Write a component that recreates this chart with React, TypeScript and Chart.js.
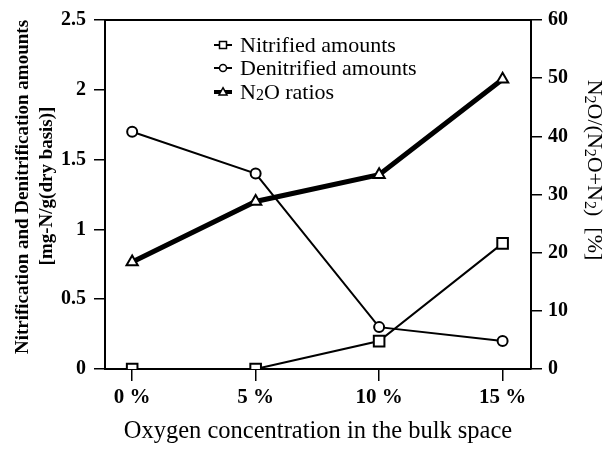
import React, { useEffect, useRef } from 'react';
import { Chart, registerables } from 'chart.js';

Chart.register(...registerables);

const oxygenLevels = [0, 5, 10, 15];
const xTickLabels = ['0 %', '5 %', '10 %', '15 %'];
const nitrified = [0, 0, 0.2, 0.9];
const denitrified = [1.7, 1.4, 0.3, 0.2];
const n2oRatios = [18.4, 28.8, 33.4, 49.8];
const leftTicks = [0, 0.5, 1, 1.5, 2, 2.5];
const rightTicks = [0, 10, 20, 30, 40, 50, 60];
const seriesLabels = ['Nitrified amounts', 'Denitrified amounts', 'N₂O ratios'];

const FONT = "'Liberation Serif', 'Times New Roman', serif";

type Seg = { t: string; sub?: boolean };

function richSegments(text: string): Seg[] {
  const out: Seg[] = [];
  for (const ch of text) {
    const sub = ch === '₂';
    const t = sub ? '2' : ch;
    const last = out[out.length - 1];
    if (last && !!last.sub === sub) last.t += t;
    else out.push({ t, sub });
  }
  return out;
}

function drawRich(
  ctx: CanvasRenderingContext2D,
  text: string,
  x: number,
  y: number,
  size: number,
  subSize: number,
  subDrop: number,
  align: 'left' | 'center'
) {
  const segs = richSegments(text);
  const fontFor = (s: Seg) => `${s.sub ? subSize : size}px ${FONT}`;
  let total = 0;
  for (const s of segs) {
    ctx.font = fontFor(s);
    total += ctx.measureText(s.t).width;
  }
  let cx = align === 'center' ? x - total / 2 : x;
  ctx.textAlign = 'left';
  ctx.textBaseline = 'alphabetic';
  const base = y + size * 0.33;
  for (const s of segs) {
    ctx.font = fontFor(s);
    ctx.fillText(s.t, cx, s.sub ? base + subDrop : base);
    cx += ctx.measureText(s.t).width;
  }
}

function drawMarker(ctx: CanvasRenderingContext2D, style: string, x: number, y: number, r: number) {
  ctx.beginPath();
  if (style === 'rect') {
    ctx.rect(x - r, y - r, 2 * r, 2 * r);
  } else if (style === 'circle') {
    ctx.arc(x, y, r, 0, Math.PI * 2);
  } else {
    const h = r * 1.8;
    ctx.moveTo(x, y - h * 0.6);
    ctx.lineTo(x + r, y + h * 0.4);
    ctx.lineTo(x - r, y + h * 0.4);
    ctx.closePath();
  }
  ctx.fillStyle = '#fff';
  ctx.fill();
  ctx.stroke();
}

const decorPlugin = {
  id: 'decor',
  afterDraw(chart: any) {
    const ctx: CanvasRenderingContext2D = chart.ctx;
    const { left, right, top } = chart.chartArea;
    ctx.save();
    // top border
    ctx.strokeStyle = '#000';
    ctx.lineWidth = 2;
    ctx.beginPath();
    ctx.moveTo(left, top);
    ctx.lineTo(right, top);
    ctx.stroke();

    ctx.fillStyle = '#000';
    // x title
    ctx.textAlign = 'center';
    ctx.textBaseline = 'middle';
    ctx.font = `24.5px ${FONT}`;
    ctx.fillText('Oxygen concentration in the bulk space', 318, 432);

    // left title
    ctx.save();
    ctx.translate(23, 187);
    ctx.rotate(-Math.PI / 2);
    ctx.font = `bold 19px ${FONT}`;
    ctx.fillText('Nitrification and Denitrification amounts', 0, 0);
    ctx.restore();
    ctx.save();
    ctx.translate(47, 186);
    ctx.rotate(-Math.PI / 2);
    ctx.font = `bold 19px ${FONT}`;
    ctx.fillText('[mg-N/g(dry basis)]', 0, 0);
    ctx.restore();

    // right title
    ctx.save();
    ctx.translate(595, 170);
    ctx.rotate(Math.PI / 2);
    drawRich(ctx, 'N₂O/(N₂O+N₂)  [%]', 0, 0, 22, 16, 3, 'center');
    ctx.restore();

    // legend
    const styles = ['rect', 'circle', 'triangle'];
    const widths = [2, 2, 4];
    const rows = [45, 68, 92];
    for (let i = 0; i < 3; i++) {
      const y = rows[i];
      ctx.fillStyle = '#000';
      drawRich(ctx, seriesLabels[i], 240, y, 22, 16, 1, 'left');
      ctx.strokeStyle = '#000';
      ctx.lineWidth = widths[i];
      ctx.beginPath();
      ctx.moveTo(214, y);
      ctx.lineTo(232, y);
      ctx.stroke();
      ctx.lineWidth = 1.5;
      drawMarker(ctx, styles[i], 223, y, i === 2 ? 4 : 3.5);
    }
    ctx.restore();
  },
};

export default function App() {
  const ref = useRef<HTMLCanvasElement>(null);
  useEffect(() => {
    if (!ref.current) return;
    const tickFont = { family: FONT, size: 20, weight: 'bold' as const };
    const grid = { drawOnChartArea: false, drawTicks: true, tickLength: 11, color: '#000', lineWidth: 1.5 };
    const border = { display: true, color: '#000', width: 2 };
    const chart = new Chart(ref.current, {
      type: 'line',
      data: {
        datasets: [
          {
            label: seriesLabels[0],
            data: oxygenLevels.map((x, i) => ({ x, y: nitrified[i] })),
            yAxisID: 'y',
            borderColor: '#000',
            borderWidth: 2,
            pointStyle: 'rect',
            pointRadius: 7.5,
            pointBorderWidth: 2,
            pointBackgroundColor: '#fff',
            pointBorderColor: '#000',
            clip: 0,
          },
          {
            label: seriesLabels[1],
            data: oxygenLevels.map((x, i) => ({ x, y: denitrified[i] })),
            yAxisID: 'y',
            borderColor: '#000',
            borderWidth: 2,
            pointStyle: 'circle',
            pointRadius: 5,
            pointBorderWidth: 2,
            pointBackgroundColor: '#fff',
            pointBorderColor: '#000',
          },
          {
            label: seriesLabels[2],
            data: oxygenLevels.map((x, i) => ({ x, y: n2oRatios[i] })),
            yAxisID: 'y1',
            borderColor: '#000',
            borderWidth: 5,
            pointStyle: 'triangle',
            pointRadius: 6.5,
            pointBorderWidth: 2,
            pointBackgroundColor: '#fff',
            pointBorderColor: '#000',
          },
        ],
      },
      options: {
        responsive: false,
        animation: false,
        layout: { padding: { top: 20, left: 0, right: 0, bottom: 0 } },
        plugins: { legend: { display: false }, tooltip: { enabled: false } },
        scales: {
          x: {
            type: 'linear',
            position: 'bottom',
            min: -1.1,
            max: 16.15,
            afterBuildTicks: (s: any) => {
              s.ticks = oxygenLevels.map((v) => ({ value: v }));
            },
            afterFit: (s: any) => {
              s.height = 81;
            },
            ticks: {
              callback: (v: any) => {
                const i = oxygenLevels.indexOf(Number(v));
                return i >= 0 ? xTickLabels[i] : '';
              },
              font: { family: FONT, size: 21, weight: 'bold' },
              color: '#000',
              padding: 4,
              maxRotation: 0,
              autoSkip: false,
            },
            grid: { ...grid, tickLength: 12 },
            border,
          },
          y: {
            type: 'linear',
            position: 'left',
            min: 0,
            max: 2.5,
            afterBuildTicks: (s: any) => {
              s.ticks = leftTicks.map((v) => ({ value: v }));
            },
            afterFit: (s: any) => {
              s.width = 105;
            },
            ticks: { font: tickFont, color: '#000', padding: 8, callback: (v: any) => String(v) },
            grid,
            border,
          },
          y1: {
            type: 'linear',
            position: 'right',
            min: 0,
            max: 60,
            afterBuildTicks: (s: any) => {
              s.ticks = rightTicks.map((v) => ({ value: v }));
            },
            afterFit: (s: any) => {
              s.width = 78;
            },
            ticks: { font: tickFont, color: '#000', padding: 6, callback: (v: any) => String(v) },
            grid,
            border,
          },
        },
      },
      plugins: [decorPlugin],
    } as any);
    return () => chart.destroy();
  }, []);
  return (
    <div style={{ position: 'absolute', left: 0, top: 0, width: 609, height: 450, background: '#fff' }}>
      <canvas ref={ref} width={609} height={450} />
    </div>
  );
}
